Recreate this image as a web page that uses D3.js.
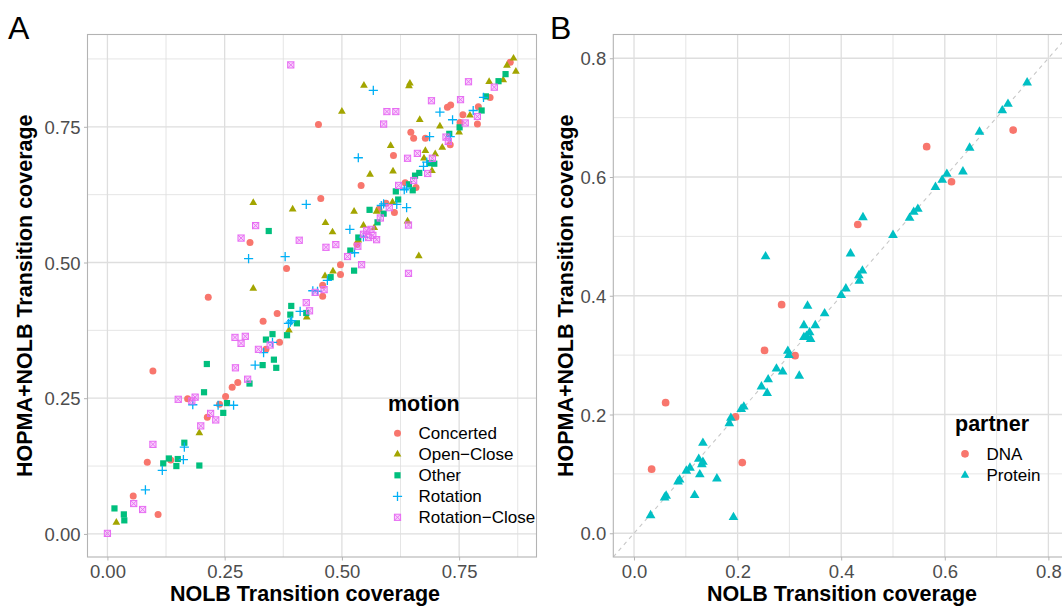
<!DOCTYPE html>
<html><head><meta charset="utf-8">
<script src="https://cdn.jsdelivr.net/npm/d3@7"></script>
<style>body{margin:0;background:#fff}svg{display:block;font-family:"Liberation Sans",Arial,Helvetica,sans-serif}</style>
</head><body><svg id="c" width="1062" height="606"></svg>
<script>
// ---------------- DATA ----------------
const motionCategories = ["Concerted", "Open\u2212Close", "Other", "Rotation", "Rotation\u2212Close"];
const motionColors = ["#F8766D", "#A3A500", "#00BF7D", "#00B0F6", "#E76BF3"];
const concerted = [[0.097,0.300],[0.085,0.132],[0.108,0.036],[0.055,0.070],[0.135,0.136],[0.171,0.249],[0.239,0.239],[0.213,0.215],[0.215,0.436],[0.252,0.253],[0.266,0.270],[0.278,0.279],[0.332,0.392],[0.338,0.340],[0.362,0.406],[0.367,0.353],[0.382,0.489],[0.304,0.537],[0.450,0.754],[0.455,0.618],[0.459,0.458],[0.459,0.438],[0.497,0.496],[0.497,0.478],[0.541,0.642],[0.532,0.533],[0.579,0.598],[0.594,0.609],[0.612,0.592],[0.610,0.697],[0.635,0.647],[0.658,0.638],[0.647,0.740],[0.653,0.729],[0.678,0.729],[0.731,0.717],[0.725,0.786],[0.732,0.790],[0.758,0.772],[0.752,0.758],[0.789,0.755],[0.791,0.787],[0.816,0.804],[0.859,0.869]];
const openClose = [[0.019,0.021],[0.196,0.186],[0.311,0.452],[0.311,0.610],[0.395,0.598],[0.387,0.375],[0.425,0.399],[0.464,0.475],[0.481,0.484],[0.465,0.573],[0.480,0.556],[0.500,0.778],[0.547,0.826],[0.526,0.594],[0.546,0.568],[0.560,0.662],[0.569,0.564],[0.535,0.541],[0.574,0.594],[0.608,0.611],[0.604,0.715],[0.609,0.668],[0.640,0.576],[0.645,0.830],[0.643,0.825],[0.664,0.512],[0.666,0.763],[0.678,0.706],[0.699,0.700],[0.675,0.692],[0.692,0.669],[0.709,0.751],[0.714,0.712],[0.750,0.740],[0.773,0.771],[0.814,0.833],[0.844,0.836],[0.852,0.863],[0.866,0.876],[0.871,0.852]];
const other = [[0.015,0.047],[0.035,0.036],[0.036,0.025],[0.119,0.130],[0.131,0.139],[0.150,0.138],[0.147,0.125],[0.196,0.126],[0.164,0.168],[0.212,0.313],[0.206,0.261],[0.247,0.223],[0.255,0.241],[0.303,0.277],[0.331,0.311],[0.355,0.321],[0.360,0.306],[0.338,0.358],[0.352,0.368],[0.383,0.366],[0.390,0.404],[0.392,0.420],[0.404,0.388],[0.424,0.407],[0.344,0.558],[0.476,0.473],[0.526,0.485],[0.518,0.522],[0.535,0.546],[0.559,0.597],[0.576,0.574],[0.589,0.590],[0.615,0.631],[0.620,0.616],[0.643,0.644],[0.651,0.633],[0.656,0.660],[0.665,0.665],[0.688,0.683],[0.697,0.682],[0.729,0.737],[0.751,0.749],[0.798,0.780],[0.807,0.806],[0.834,0.834],[0.849,0.847]];
const rotation = [[0.081,0.081],[0.117,0.117],[0.164,0.160],[0.162,0.137],[0.182,0.238],[0.236,0.237],[0.269,0.237],[0.315,0.311],[0.333,0.334],[0.352,0.353],[0.301,0.507],[0.379,0.511],[0.390,0.390],[0.393,0.393],[0.386,0.388],[0.411,0.410],[0.424,0.607],[0.438,0.448],[0.448,0.447],[0.469,0.467],[0.517,0.561],[0.546,0.547],[0.527,0.518],[0.535,0.693],[0.567,0.817],[0.589,0.608],[0.584,0.605],[0.617,0.607],[0.638,0.601],[0.633,0.634],[0.638,0.637],[0.674,0.677],[0.681,0.685],[0.687,0.732],[0.709,0.777],[0.736,0.763],[0.731,0.732],[0.780,0.780],[0.802,0.804]];
const rotationClose = [[0.000,0.001],[0.056,0.056],[0.075,0.045],[0.097,0.165],[0.151,0.248],[0.187,0.252],[0.180,0.245],[0.199,0.199],[0.220,0.222],[0.231,0.210],[0.273,0.306],[0.272,0.362],[0.294,0.364],[0.285,0.351],[0.299,0.285],[0.322,0.340],[0.347,0.348],[0.285,0.545],[0.316,0.568],[0.391,0.864],[0.409,0.541],[0.424,0.426],[0.431,0.411],[0.443,0.445],[0.462,0.450],[0.466,0.528],[0.487,0.533],[0.512,0.511],[0.542,0.496],[0.553,0.559],[0.562,0.561],[0.546,0.552],[0.566,0.550],[0.574,0.542],[0.557,0.546],[0.534,0.530],[0.582,0.582],[0.601,0.601],[0.589,0.755],[0.596,0.778],[0.615,0.778],[0.642,0.569],[0.642,0.480],[0.621,0.642],[0.653,0.651],[0.640,0.692],[0.661,0.701],[0.683,0.664],[0.693,0.692],[0.691,0.798],[0.722,0.731],[0.727,0.723],[0.753,0.800],[0.763,0.757],[0.789,0.769],[0.770,0.833],[0.825,0.823]];

const partnerCategories = ["DNA", "Protein"];
const partnerColors = ["#F8766D", "#00BFC4"];
const dna = [[0.034,0.108],[0.061,0.220],[0.196,0.196],[0.209,0.119],[0.252,0.308],[0.285,0.385],[0.311,0.299],[0.432,0.520],[0.565,0.651],[0.613,0.592],[0.732,0.679]];
const protein = [[0.032,0.030],[0.059,0.060],[0.062,0.063],[0.085,0.087],[0.088,0.090],[0.101,0.105],[0.108,0.110],[0.117,0.064],[0.127,0.099],[0.125,0.125],[0.133,0.120],[0.131,0.116],[0.133,0.152],[0.160,0.092],[0.192,0.027],[0.184,0.185],[0.187,0.194],[0.207,0.209],[0.212,0.213],[0.246,0.247],[0.259,0.259],[0.257,0.236],[0.254,0.466],[0.275,0.277],[0.287,0.272],[0.297,0.307],[0.299,0.300],[0.319,0.265],[0.328,0.350],[0.335,0.383],[0.350,0.350],[0.368,0.370],[0.339,0.338],[0.328,0.330],[0.341,0.327],[0.333,0.332],[0.400,0.401],[0.409,0.412],[0.418,0.471],[0.434,0.434],[0.435,0.425],[0.441,0.442],[0.442,0.532],[0.500,0.502],[0.532,0.531],[0.540,0.541],[0.548,0.546],[0.582,0.583],[0.595,0.595],[0.604,0.605],[0.635,0.609],[0.648,0.649],[0.667,0.676],[0.711,0.712],[0.722,0.723],[0.759,0.759]];

const ticksA = [0, 0.25, 0.5, 0.75];
const tickLabelsA = ["0.00", "0.25", "0.50", "0.75"];
const minorA = [0.125, 0.375, 0.625, 0.875];
const ticksB = [0, 0.2, 0.4, 0.6, 0.8];
const tickLabelsB = ["0.0", "0.2", "0.4", "0.6", "0.8"];
const minorB = [0.1, 0.3, 0.5, 0.7];
const xTitle = "NOLB Transition coverage";
const yTitle = "HOPMA+NOLB Transition coverage";

// ---------------- DRAW ----------------
const svg = d3.select("#c");
const TOP = 34.5, BOTTOM = 557;
const gridCol = "#DEDEDE", borderCol = "#B3B3B3", tickTextCol = "#4D4D4D";

function drawPanel(o) {
  const x = d3.scaleLinear().domain(o.xd).range([o.left, o.right]);
  const y = d3.scaleLinear().domain(o.yd).range([BOTTOM, TOP]);
  const g = svg.append("g");
  const cid = "clip" + o.id;
  svg.append("clipPath").attr("id", cid).append("rect")
    .attr("x", o.left).attr("y", TOP).attr("width", o.right - o.left).attr("height", BOTTOM - TOP);
  const grid = g.append("g").attr("clip-path", `url(#${cid})`);
  o.minor.forEach(v => {
    grid.append("line").attr("x1", x(v)).attr("x2", x(v)).attr("y1", TOP).attr("y2", BOTTOM).attr("stroke", gridCol).attr("stroke-width", 0.8);
    grid.append("line").attr("y1", y(v)).attr("y2", y(v)).attr("x1", o.left).attr("x2", o.right).attr("stroke", gridCol).attr("stroke-width", 0.8);
  });
  o.ticks.forEach(v => {
    grid.append("line").attr("x1", x(v)).attr("x2", x(v)).attr("y1", TOP).attr("y2", BOTTOM).attr("stroke", gridCol).attr("stroke-width", 1.3);
    grid.append("line").attr("y1", y(v)).attr("y2", y(v)).attr("x1", o.left).attr("x2", o.right).attr("stroke", gridCol).attr("stroke-width", 1.3);
  });
  const xAxis = d3.axisBottom(x).tickValues(o.ticks).tickFormat((d, i) => o.labels[i]).tickSize(3.5).tickPadding(3);
  const yAxis = d3.axisLeft(y).tickValues(o.ticks).tickFormat((d, i) => o.labels[i]).tickSize(3.5).tickPadding(3.5);
  const gx = svg.append("g").attr("transform", `translate(0,${BOTTOM})`).call(xAxis);
  const gy = svg.append("g").attr("transform", `translate(${o.left},0)`).call(yAxis);
  [gx, gy].forEach(a => {
    a.select(".domain").remove();
    a.selectAll(".tick line").attr("stroke", borderCol).attr("stroke-width", 1);
    a.selectAll(".tick text").attr("fill", tickTextCol).attr("font-size", "18.5px").attr("font-family", '"Liberation Sans",Arial,sans-serif');
  });
  gx.selectAll(".tick text").attr("dy", "0.78em");
  gy.selectAll(".tick text").attr("dy", "0.36em");
  const pts = svg.append("g").attr("clip-path", `url(#${cid})`);
  svg.append("rect").attr("x", o.left).attr("y", TOP).attr("width", o.right - o.left).attr("height", BOTTOM - TOP)
    .attr("fill", "none").attr("stroke", borderCol).attr("stroke-width", 1.1);
  svg.append("text").attr("x", o.xTitleX).attr("y", 600.5).attr("text-anchor", "middle")
    .attr("font-weight", "bold").attr("font-size", "21.5px").text(xTitle);
  svg.append("text").attr("transform", `translate(${o.yTitleX},${(TOP + BOTTOM) / 2}) rotate(-90)`)
    .attr("text-anchor", "middle").attr("font-weight", "bold").attr("font-size", "21.5px").text(yTitle);
  svg.append("text").attr("x", o.tagX).attr("y", 38.7).attr("font-size", "32px").text(o.tag);
  return { x, y, pts };
}

function drawShape(g, shape, cx, cy, color, s) {
  s = s || 1;
  if (shape === "circle") {
    g.append("circle").attr("cx", cx).attr("cy", cy).attr("r", 3.5 * s).attr("fill", color);
  } else if (shape === "triangle") {
    g.append("path").attr("d", d3.symbol(d3.symbolTriangle, 26 * s * s)()).attr("transform", `translate(${cx},${cy})`).attr("fill", color);
  } else if (shape === "square") {
    const h = 3.1 * s;
    g.append("rect").attr("x", cx - h).attr("y", cy - h).attr("width", 2 * h).attr("height", 2 * h).attr("fill", color);
  } else if (shape === "plus") {
    const h = 4.6 * s;
    g.append("path").attr("d", `M${cx - h},${cy}H${cx + h}M${cx},${cy - h}V${cy + h}`).attr("stroke", color).attr("stroke-width", 1.3).attr("fill", "none");
  } else if (shape === "squarex") {
    const h = 3.1 * s;
    g.append("rect").attr("x", cx - h).attr("y", cy - h).attr("width", 2 * h).attr("height", 2 * h)
      .attr("fill", color).attr("fill-opacity", 0.3).attr("stroke", color).attr("stroke-width", 1);
    g.append("path").attr("d", `M${cx - h},${cy - h}L${cx + h},${cy + h}M${cx - h},${cy + h}L${cx + h},${cy - h}`)
      .attr("stroke", color).attr("stroke-width", 0.9).attr("fill", "none");
  }
}

// Panel A
const A = drawPanel({ id: "A", left: 87.5, right: 536.5, xd: [-0.0425, 0.915], yd: [-0.0425, 0.92],
  ticks: ticksA, labels: tickLabelsA, minor: minorA, xTitleX: 305, yTitleX: 32, tag: "A", tagX: 8 });
const motionSeries = [concerted, openClose, other, rotation, rotationClose];
const motionShapes = ["circle", "triangle", "square", "plus", "squarex"];
motionSeries.forEach((arr, i) => arr.forEach(d => drawShape(A.pts, motionShapes[i], A.x(d[0]), A.y(d[1]), motionColors[i])));

svg.append("text").attr("x", 388).attr("y", 411).attr("font-weight", "bold").attr("font-size", "21.5px").text("motion");
motionCategories.forEach((c, i) => {
  const yy = 433.3 + i * 21;
  drawShape(svg, motionShapes[i], 397.5, yy, motionColors[i]);
  svg.append("text").attr("x", 418.5).attr("y", yy).attr("dy", "0.36em").attr("font-size", "17px").text(c);
});

// Panel B
const B = drawPanel({ id: "B", left: 613.3, right: 1069.1, xd: [-0.04, 0.84], yd: [-0.04, 0.84],
  ticks: ticksB, labels: tickLabelsB, minor: minorB, xTitleX: 842, yTitleX: 573, tag: "B", tagX: 550 });
B.pts.append("line").attr("x1", B.x(-0.04)).attr("y1", B.y(-0.04)).attr("x2", B.x(0.84)).attr("y2", B.y(0.84))
  .attr("stroke", "#C8C8C8").attr("stroke-width", 1.1).attr("stroke-dasharray", "4,4");
dna.forEach(d => drawShape(B.pts, "circle", B.x(d[0]), B.y(d[1]), partnerColors[0], 1.1));
protein.forEach(d => drawShape(B.pts, "triangle", B.x(d[0]), B.y(d[1]), partnerColors[1], 1.25));

svg.append("text").attr("x", 955).attr("y", 430.5).attr("font-weight", "bold").attr("font-size", "21.5px").text("partner");
partnerCategories.forEach((c, i) => {
  const yy = 453.8 + i * 21.4;
  drawShape(svg, i === 0 ? "circle" : "triangle", 965, yy, partnerColors[i], 1.1);
  svg.append("text").attr("x", 986.5).attr("y", yy).attr("dy", "0.36em").attr("font-size", "17px").text(c);
});
</script></body></html>
